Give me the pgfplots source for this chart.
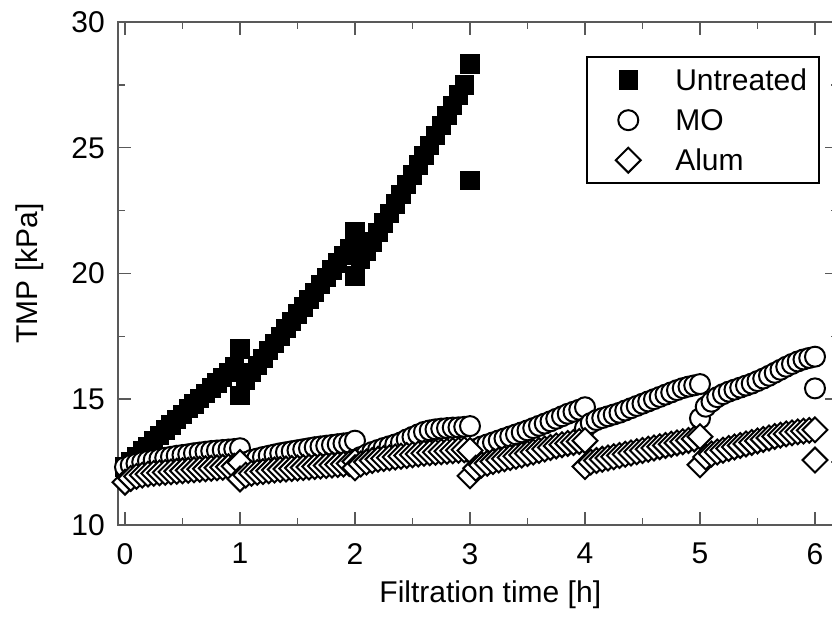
\documentclass[border=0pt]{standalone}
\usepackage{pgfplots}
\pgfplotsset{compat=1.18}
\usepackage{fontspec}
\setmainfont{Liberation Sans}

\begin{document}
\begin{tikzpicture}
\begin{axis}[
    scale only axis,
    width=360pt, height=251.5pt,
    xmin=-0.06, xmax=6.2,
    ymin=10, ymax=30,
    xtick={0,1,...,6},
    ytick={10,15,...,30},
    minor x tick num=1,
    minor y tick num=1,
    tick align=inside,
    major tick length=6.5pt,
    minor tick length=3.5pt,
    axis line style={black!65, line width=0.75pt},
    tick style={black!65, line width=0.75pt},
    /pgf/number format/assume math mode=true,
    tick label style={font=\fontsize{15}{17}\selectfont},
    xticklabel style={inner sep=0pt, yshift=-9pt},
    yticklabel style={inner sep=0pt, xshift=-6.5pt},
    label style={font=\fontsize{15}{17}\selectfont},
    xlabel={Filtration time [h]},
    ylabel={TMP [kPa]},
    xlabel style={at={(axis description cs:0.517,-0.1093)}, anchor=north, inner sep=0pt},
    ylabel style={at={(axis description cs:-0.143,0.5)}, anchor=north, inner sep=0pt},
    legend cell align=left,
    legend style={at={(rel axis cs:0.975,0.932)}, anchor=north east,
                  draw=black, line width=1pt, inner xsep=6pt, inner ysep=1.5pt,
                  font=\fontsize{15}{17}\selectfont,
                  nodes={inner sep=0pt, text height=15.4pt, text depth=4.6pt}},
    legend image code/.code={\path[draw=none, fill=none] (0pt,0pt) -- (38pt,0pt);
                             \draw[#1] plot coordinates {(14.5pt,0pt)};},
]

% Untreated
\addplot[only marks, mark=square*, mark size=4.6pt,
         mark options={draw=black, fill=black, line width=0.5pt}] coordinates {
    (0.00,12.30) (0.05,12.52) (0.10,12.71) (0.15,12.95) (0.20,13.12) (0.25,13.36)
    (0.30,13.55) (0.35,13.78) (0.40,13.97) (0.45,14.20) (0.50,14.39) (0.55,14.62)
    (0.60,14.81) (0.65,15.03) (0.70,15.22) (0.75,15.45) (0.80,15.64) (0.85,15.86)
    (0.90,16.05) (0.95,16.30) (1.00,17.00)
    (1.00,15.15) (1.05,15.75) (1.10,16.05) (1.15,16.33) (1.20,16.62) (1.25,16.93)
    (1.30,17.21) (1.35,17.50) (1.40,17.80) (1.45,18.08) (1.50,18.38) (1.55,18.67)
    (1.60,18.97) (1.65,19.25) (1.70,19.55) (1.75,19.84) (1.80,20.13) (1.85,20.42)
    (1.90,20.71) (1.95,21.00) (2.00,21.65)
    (2.00,19.90) (2.05,20.55) (2.10,20.90) (2.15,21.25) (2.20,21.62) (2.25,22.00)
    (2.30,22.38) (2.35,22.76) (2.40,23.15) (2.45,23.53) (2.50,23.92) (2.55,24.31)
    (2.60,24.70) (2.65,25.10) (2.70,25.49) (2.75,25.89) (2.80,26.29) (2.85,26.69)
    (2.90,27.10) (2.95,27.50) (3.00,28.33)
    (3.00,23.70)
};

% MO
\addplot[only marks, mark=*, mark size=5pt,
         mark options={draw=black, fill=white, line width=1pt}] coordinates {
    (0.00,12.30) (0.05,12.38) (0.10,12.44) (0.15,12.50) (0.20,12.55) (0.25,12.59)
    (0.30,12.63) (0.35,12.67) (0.40,12.71) (0.45,12.75) (0.50,12.78) (0.55,12.81)
    (0.60,12.85) (0.65,12.88) (0.70,12.91) (0.75,12.94) (0.80,12.96) (0.85,12.98)
    (0.90,13.00) (0.95,13.02) (1.00,13.05)
    (1.00,12.35) (1.05,12.50) (1.10,12.58) (1.15,12.64) (1.20,12.70) (1.25,12.75)
    (1.30,12.80) (1.35,12.85) (1.40,12.89) (1.45,12.93) (1.50,12.97) (1.55,13.01)
    (1.60,13.05) (1.65,13.09) (1.70,13.12) (1.75,13.15) (1.80,13.18) (1.85,13.21)
    (1.90,13.24) (1.95,13.27) (2.00,13.35)
    (2.00,12.55) (2.05,12.70) (2.10,12.80) (2.15,12.90) (2.20,12.98) (2.25,13.06)
    (2.30,13.13) (2.35,13.20) (2.40,13.28) (2.45,13.40) (2.50,13.50) (2.55,13.60)
    (2.60,13.70) (2.65,13.76) (2.70,13.80) (2.75,13.83) (2.80,13.85) (2.85,13.87)
    (2.90,13.88) (2.95,13.90) (3.00,13.93)
    (3.00,12.90) (3.05,13.02) (3.10,13.12) (3.15,13.20) (3.20,13.28) (3.25,13.36)
    (3.30,13.44) (3.35,13.52) (3.40,13.60) (3.45,13.68) (3.50,13.76) (3.55,13.85)
    (3.60,13.94) (3.65,14.03) (3.70,14.12) (3.75,14.22) (3.80,14.32) (3.85,14.42)
    (3.90,14.50) (3.95,14.58) (4.00,14.68)
    (4.00,13.85) (4.05,14.05) (4.10,14.17) (4.15,14.25) (4.20,14.32) (4.25,14.39)
    (4.30,14.46) (4.35,14.55) (4.40,14.64) (4.45,14.73) (4.50,14.82) (4.55,14.91)
    (4.60,15.00) (4.65,15.09) (4.70,15.18) (4.75,15.27) (4.80,15.36) (4.85,15.44)
    (4.90,15.50) (4.95,15.55) (5.00,15.60)
    (5.00,14.24) (5.05,14.70) (5.10,14.90) (5.15,15.08) (5.20,15.20) (5.25,15.30)
    (5.30,15.38) (5.35,15.46) (5.40,15.54) (5.45,15.62) (5.50,15.72) (5.55,15.82)
    (5.60,15.93) (5.65,16.05) (5.70,16.17) (5.75,16.29) (5.80,16.40) (5.85,16.50)
    (5.90,16.58) (5.95,16.64) (6.00,16.69)
    (6.00,15.43)
};

% Alum
\addplot[only marks, mark=square*, mark size=4.4pt,
         mark options={rotate=45, draw=black, fill=white, line width=1pt}] coordinates {
    (0.00,11.70) (0.05,11.85) (0.10,11.93) (0.15,11.98) (0.20,12.02) (0.25,12.05)
    (0.30,12.07) (0.35,12.09) (0.40,12.11) (0.45,12.13) (0.50,12.15) (0.55,12.17)
    (0.60,12.19) (0.65,12.21) (0.70,12.23) (0.75,12.25) (0.80,12.27) (0.85,12.29)
    (0.90,12.31) (0.95,12.33) (1.00,12.48)
    (1.00,11.83) (1.05,11.98) (1.10,12.05) (1.15,12.09) (1.20,12.12) (1.25,12.15)
    (1.30,12.18) (1.35,12.20) (1.40,12.22) (1.45,12.24) (1.50,12.26) (1.55,12.28)
    (1.60,12.30) (1.65,12.32) (1.70,12.34) (1.75,12.36) (1.80,12.38) (1.85,12.40)
    (1.90,12.42) (1.95,12.44) (2.00,12.52)
    (2.00,12.27) (2.05,12.42) (2.10,12.50) (2.15,12.56) (2.20,12.61) (2.25,12.64)
    (2.30,12.67) (2.35,12.70) (2.40,12.73) (2.45,12.76) (2.50,12.79) (2.55,12.82)
    (2.60,12.85) (2.65,12.87) (2.70,12.89) (2.75,12.91) (2.80,12.93) (2.85,12.95)
    (2.90,12.97) (2.95,12.99) (3.00,12.96)
    (3.00,11.95) (3.05,12.25) (3.10,12.38) (3.15,12.45) (3.20,12.52) (3.25,12.58)
    (3.30,12.63) (3.35,12.68) (3.40,12.73) (3.45,12.78) (3.50,12.84) (3.55,12.90)
    (3.60,12.96) (3.65,13.02) (3.70,13.08) (3.75,13.14) (3.80,13.19) (3.85,13.24)
    (3.90,13.28) (3.95,13.32) (4.00,13.35)
    (4.00,12.32) (4.05,12.50) (4.10,12.56) (4.15,12.61) (4.20,12.66) (4.25,12.71)
    (4.30,12.76) (4.35,12.81) (4.40,12.86) (4.45,12.91) (4.50,12.96) (4.55,13.01)
    (4.60,13.06) (4.65,13.11) (4.70,13.16) (4.75,13.21) (4.80,13.26) (4.85,13.31)
    (4.90,13.36) (4.95,13.42) (5.00,13.51)
    (5.00,12.39) (5.05,12.70) (5.10,12.82) (5.15,12.90) (5.20,12.97) (5.25,13.04)
    (5.30,13.10) (5.35,13.16) (5.40,13.22) (5.45,13.28) (5.50,13.34) (5.55,13.40)
    (5.60,13.46) (5.65,13.52) (5.70,13.57) (5.75,13.62) (5.80,13.66) (5.85,13.70)
    (5.90,13.73) (5.95,13.76) (6.00,13.78)
    (6.00,12.58)
};

\legend{Untreated, MO, Alum}

% page frame of the reference image
\coordinate (bbsw) at (axis cs:-1.087,6.103);
\coordinate (bbne) at (axis cs:6.148,30.875);
\end{axis}
\pgfresetboundingbox
\path[use as bounding box] (bbsw) rectangle (bbne);
\end{tikzpicture}
\end{document}
